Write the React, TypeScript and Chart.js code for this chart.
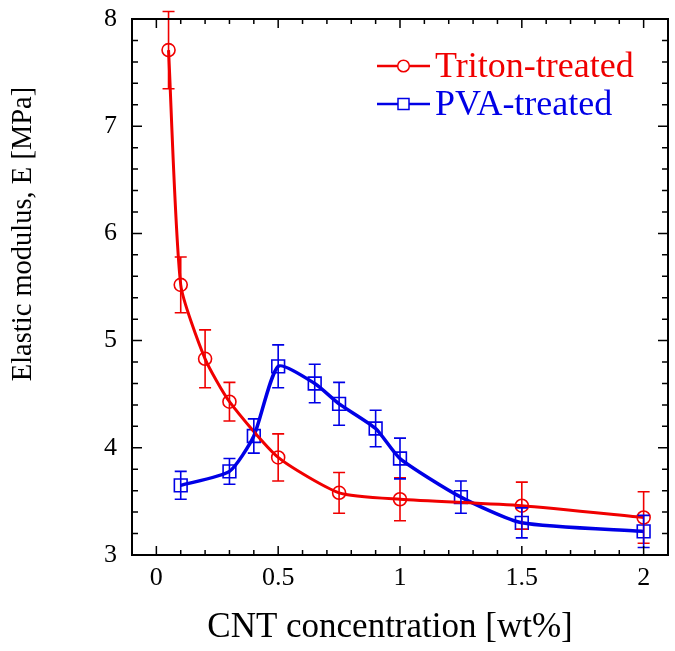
import React, { useEffect, useRef } from "react";
import { Chart, registerables } from "chart.js";

Chart.register(...registerables);

const tritonX = [0.05, 0.1, 0.2, 0.3, 0.5, 0.75, 1, 1.5, 2];
const tritonY = [7.71, 5.52, 4.83, 4.43, 3.91, 3.58, 3.52, 3.46, 3.35];
const tritonErr = [0.36, 0.26, 0.27, 0.18, 0.22, 0.19, 0.2, 0.22, 0.24];

const pvaX = [0.1, 0.3, 0.4, 0.5, 0.65, 0.75, 0.9, 1, 1.25, 1.5, 2];
const pvaY = [3.65, 3.78, 4.11, 4.76, 4.6, 4.41, 4.18, 3.9, 3.54, 3.3, 3.22];
const pvaErr = [0.13, 0.12, 0.16, 0.2, 0.18, 0.2, 0.17, 0.19, 0.15, 0.14, 0.15];

const xTicks = [0, 0.5, 1, 1.5, 2];
const yTicks = [3, 4, 5, 6, 7, 8];
const xMinorStep = 0.1;
const yMinorStep = 0.2;

const xTitle = "CNT concentration [wt%]";
const yTitle = "Elastic modulus, E [MPa]";

const RED = "#f00000";
const BLUE = "#0000e6";
const FONT = "'Liberation Serif', 'Times New Roman', serif";

const errors = [tritonErr, pvaErr];

const framePlugin = {
  id: "frameAndErrors",
  afterDatasetsDraw(chart: any) {
    const ctx = chart.ctx;
    const { left, right, top, bottom } = chart.chartArea;
    const xs = chart.scales.x;
    const ys = chart.scales.y;
    ctx.save();
    // error bars
    chart.data.datasets.forEach((ds: any, i: number) => {
      const errs = errors[i];
      ctx.strokeStyle = ds.borderColor;
      ctx.lineWidth = 1.6;
      ds.data.forEach((p: any, j: number) => {
        const px = xs.getPixelForValue(p.x);
        const y1 = ys.getPixelForValue(p.y + errs[j]);
        const y2 = ys.getPixelForValue(p.y - errs[j]);
        ctx.beginPath();
        ctx.moveTo(px, y1);
        ctx.lineTo(px, y2);
        ctx.moveTo(px - 6, y1);
        ctx.lineTo(px + 6, y1);
        ctx.moveTo(px - 6, y2);
        ctx.lineTo(px + 6, y2);
        ctx.stroke();
      });
    });
    // frame
    ctx.strokeStyle = "#000";
    ctx.lineWidth = 2;
    ctx.strokeRect(left, top, right - left, bottom - top);
    ctx.lineWidth = 1.5;
    ctx.beginPath();
    const xmin = xs.min, xmax = xs.max;
    for (let k = Math.ceil(xmin / xMinorStep - 1e-6); k * xMinorStep <= xmax + 1e-9; k++) {
      const v = k * xMinorStep;
      const major = xTicks.some((t) => Math.abs(t - v) < 1e-6);
      const len = major ? 9 : 5;
      const px = xs.getPixelForValue(v);
      ctx.moveTo(px, bottom);
      ctx.lineTo(px, bottom - len);
      ctx.moveTo(px, top);
      ctx.lineTo(px, top + len);
    }
    const ymin = ys.min, ymax = ys.max;
    for (let k = Math.ceil(ymin / yMinorStep - 1e-6); k * yMinorStep <= ymax + 1e-9; k++) {
      const v = k * yMinorStep;
      const major = yTicks.some((t) => Math.abs(t - v) < 1e-6);
      const len = major ? 10 : 6;
      const py = ys.getPixelForValue(v);
      ctx.moveTo(left, py);
      ctx.lineTo(left + len, py);
      ctx.moveTo(right, py);
      ctx.lineTo(right - len, py);
    }
    ctx.stroke();
    // axis titles
    ctx.fillStyle = "#000";
    ctx.textAlign = "center";
    ctx.textBaseline = "alphabetic";
    ctx.font = `35px ${FONT}`;
    ctx.fillText(xTitle, 390, 637);
    ctx.save();
    ctx.translate(31, 234);
    ctx.rotate(-Math.PI / 2);
    ctx.font = `28.5px ${FONT}`;
    ctx.fillText(yTitle, 0, 0);
    ctx.restore();
    // legend
    chart.data.datasets.forEach((ds: any, i: number) => {
      const ly = top + 47 + i * 38;
      const lx0 = right - 291;
      const lx1 = right - 238;
      ctx.strokeStyle = ds.borderColor;
      ctx.lineWidth = 2.5;
      ctx.beginPath();
      ctx.moveTo(lx0, ly);
      ctx.lineTo(lx1, ly);
      ctx.stroke();
      ctx.lineWidth = 1.5;
      ctx.fillStyle = "#fff";
      const mx = (lx0 + lx1) / 2;
      ctx.beginPath();
      if (ds.pointStyle === "rect") {
        ctx.rect(mx - 5.5, ly - 5.5, 11, 11);
      } else {
        ctx.arc(mx, ly, 5.8, 0, Math.PI * 2);
      }
      ctx.fill();
      ctx.stroke();
      ctx.fillStyle = ds.borderColor;
      ctx.font = `36px ${FONT}`;
      ctx.textBaseline = "alphabetic";
      ctx.textAlign = "left";
      ctx.fillText(ds.label, right - 233, ly + 11);
    });
    ctx.restore();
  },
};

const zeroPad = (s: any) => {
  s.paddingTop = 0;
  s.paddingBottom = 0;
  s.paddingLeft = 0;
  s.paddingRight = 0;
};

export default function App() {
  const ref = useRef<HTMLCanvasElement>(null);
  useEffect(() => {
    if (!ref.current) return;
    const chart = new Chart(ref.current, {
      type: "line",
      data: {
        datasets: [
          {
            label: "Triton-treated",
            data: tritonX.map((x, i) => ({ x, y: tritonY[i] })),
            borderColor: RED,
            backgroundColor: "rgba(0,0,0,0)",
            borderWidth: 3,
            pointStyle: "circle",
            pointRadius: 6.5,
            pointBorderWidth: 1.6,
            pointBackgroundColor: "rgba(0,0,0,0)",
            tension: 0.2,
            clip: false,
          },
          {
            label: "PVA-treated",
            data: pvaX.map((x, i) => ({ x, y: pvaY[i] })),
            borderColor: BLUE,
            backgroundColor: "rgba(0,0,0,0)",
            borderWidth: 3.5,
            pointStyle: "rect",
            pointRadius: 9,
            pointBorderWidth: 1.6,
            pointBackgroundColor: "rgba(0,0,0,0)",
            tension: 0.2,
            clip: false,
          },
        ],
      },
      options: {
        animation: false,
        responsive: false,
        devicePixelRatio: 1,
        layout: { autoPadding: false, padding: { top: 19, right: 7, left: 0, bottom: 0 } },
        plugins: { legend: { display: false }, tooltip: { enabled: false } },
        scales: {
          x: {
            type: "linear",
            min: -0.1,
            max: 2.1,
            grid: { display: false, drawTicks: false },
            border: { display: false },
            afterBuildTicks: (s: any) => {
              s.ticks = xTicks.map((v) => ({ value: v }));
            },
            afterFit: (s: any) => {
              s.height = 96;
              zeroPad(s);
            },
            ticks: {
              padding: 8,
              color: "#000",
              font: { family: FONT, size: 26 },
              maxRotation: 0,
              callback: (v: any) => String(v),
            },
            title: { display: false },
          },
          y: {
            type: "linear",
            min: 3,
            max: 8,
            grid: { display: false, drawTicks: false },
            border: { display: false },
            afterBuildTicks: (s: any) => {
              s.ticks = yTicks.map((v) => ({ value: v }));
            },
            afterFit: (s: any) => {
              s.width = 132;
              zeroPad(s);
            },
            ticks: {
              padding: 15,
              color: "#000",
              font: { family: FONT, size: 26 },
              callback: (v: any) => String(v),
            },
            title: { display: false },
          },
        },
      },
      plugins: [framePlugin],
    } as any);
    return () => chart.destroy();
  }, []);
  return (
    <div style={{ position: "absolute", left: 0, top: 0, width: 675, height: 651, background: "#fff" }}>
      <canvas ref={ref} width={675} height={651} />
    </div>
  );
}
